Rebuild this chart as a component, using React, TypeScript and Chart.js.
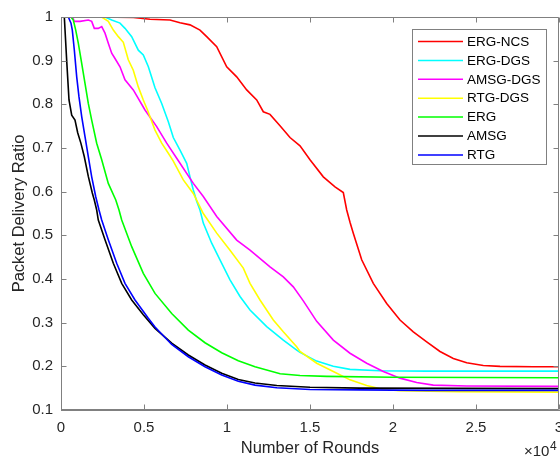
import React, { useEffect, useRef } from "react";
import { Chart, registerables } from "chart.js";

Chart.register(...registerables);

const seriesNames = ["ERG-NCS", "ERG-DGS", "AMSG-DGS", "RTG-DGS", "ERG", "AMSG", "RTG"];
const seriesColors = ["#FF0000", "#00FFFF", "#FF00FF", "#FFFF00", "#00FF00", "#000000", "#0000FF"];

const xTicks = [0, 5000, 10000, 15000, 20000, 25000, 30000];
const yTicks = [0.1, 0.2, 0.3, 0.4, 0.5, 0.6, 0.7, 0.8, 0.9, 1];

const ergNcsX = [0, 2349, 4355, 5361, 6566, 7169, 7771, 8373, 8777, 9380, 9982, 10584, 11187, 11789, 12187, 12590, 13193, 13795, 14398, 15000, 15801, 16506, 17006, 17211, 17410, 17608, 18114, 18813, 19620, 20422, 21223, 22030, 22831, 23633, 24440, 25440, 26446, 28452, 30000];
const ergNcsY = [1, 1, 0.999, 0.995, 0.993, 0.987, 0.982, 0.97, 0.955, 0.932, 0.886, 0.863, 0.833, 0.81, 0.783, 0.777, 0.751, 0.724, 0.705, 0.673, 0.634, 0.611, 0.598, 0.558, 0.53, 0.505, 0.444, 0.39, 0.344, 0.306, 0.279, 0.256, 0.234, 0.218, 0.208, 0.202, 0.2, 0.199, 0.199];

const ergDgsX = [0, 2650, 3054, 3554, 3855, 4259, 4657, 4958, 5262, 5663, 6066, 6466, 6765, 7169, 7572, 7771, 7970, 8174, 8373, 8572, 9078, 9578, 10181, 10784, 11386, 12392, 13392, 14200, 14398, 15400, 16400, 17410, 19200, 22000, 30000];
const ergDgsY = [1, 1, 0.993, 0.986, 0.974, 0.955, 0.924, 0.913, 0.886, 0.838, 0.802, 0.76, 0.724, 0.695, 0.665, 0.634, 0.604, 0.578, 0.558, 0.528, 0.482, 0.444, 0.398, 0.36, 0.329, 0.291, 0.26, 0.237, 0.232, 0.212, 0.2, 0.193, 0.19, 0.189, 0.189];

const amsgDgsX = [0, 700, 800, 1145, 1645, 1849, 2006, 2247, 2452, 2651, 2849, 3054, 3253, 3554, 3855, 4355, 5060, 5765, 6367, 7169, 7970, 8572, 9380, 10584, 11386, 12590, 13392, 13994, 14596, 15404, 16404, 17410, 18416, 19416, 20422, 21428, 22428, 24440, 30000];
const amsgDgsY = [1, 1, 0.99, 0.99, 0.993, 0.99, 0.974, 0.974, 0.978, 0.963, 0.94, 0.917, 0.905, 0.886, 0.856, 0.833, 0.787, 0.749, 0.711, 0.665, 0.619, 0.589, 0.543, 0.489, 0.466, 0.428, 0.405, 0.382, 0.35, 0.303, 0.26, 0.23, 0.207, 0.188, 0.173, 0.163, 0.157, 0.155, 0.154];

const rtgDgsX = [0, 2450, 2849, 3151, 3454, 3755, 4054, 4355, 4657, 4958, 5210, 5663, 6066, 6466, 6765, 7367, 7970, 8572, 9380, 10181, 10983, 11386, 11988, 12790, 13392, 14196, 14398, 15404, 16404, 17410, 18416, 19416, 20422, 24000, 30000];
const rtgDgsY = [1, 1, 0.99, 0.97, 0.955, 0.942, 0.902, 0.878, 0.84, 0.81, 0.787, 0.741, 0.711, 0.688, 0.67, 0.627, 0.596, 0.55, 0.505, 0.466, 0.425, 0.39, 0.352, 0.306, 0.279, 0.245, 0.234, 0.207, 0.188, 0.169, 0.156, 0.147, 0.144, 0.142, 0.141];

const ergX = [0, 600, 741, 886, 1042, 1247, 1446, 1645, 1849, 2150, 2452, 2849, 3300, 3494, 3657, 4259, 4958, 5663, 6669, 7669, 8675, 9681, 10681, 11687, 13200, 14400, 16000, 20000, 30000];
const ergY = [1, 1, 0.993, 0.97, 0.94, 0.894, 0.848, 0.802, 0.764, 0.711, 0.673, 0.619, 0.581, 0.558, 0.535, 0.474, 0.413, 0.367, 0.321, 0.283, 0.254, 0.231, 0.213, 0.199, 0.183, 0.179, 0.177, 0.175, 0.174];

const amsgX = [0, 200, 343, 482, 645, 843, 1006, 1205, 1404, 1645, 1886, 2006, 2150, 2247, 2651, 3151, 3657, 4259, 4958, 5663, 6669, 7669, 8675, 9681, 10681, 11687, 13000, 15000, 18000, 30000];
const amsgY = [1, 1, 0.9, 0.81, 0.775, 0.764, 0.735, 0.71, 0.68, 0.635, 0.597, 0.581, 0.558, 0.535, 0.49, 0.436, 0.39, 0.352, 0.318, 0.287, 0.253, 0.226, 0.203, 0.184, 0.17, 0.162, 0.156, 0.152, 0.15, 0.149];

const rtgX = [0, 440, 602, 681, 801, 946, 1084, 1247, 1446, 1645, 1849, 2090, 2289, 2452, 2849, 3355, 3855, 4458, 5259, 5663, 6669, 7669, 8675, 9681, 10681, 11687, 13000, 15000, 18000, 22000, 30000];
const rtgY = [1, 1, 0.986, 0.97, 0.925, 0.863, 0.817, 0.772, 0.726, 0.68, 0.634, 0.589, 0.558, 0.535, 0.49, 0.436, 0.39, 0.352, 0.31, 0.29, 0.25, 0.222, 0.199, 0.18, 0.166, 0.157, 0.151, 0.147, 0.146, 0.145, 0.145];

const seriesX = [ergNcsX, ergDgsX, amsgDgsX, rtgDgsX, ergX, amsgX, rtgX];
const seriesY = [ergNcsY, ergDgsY, amsgDgsY, rtgDgsY, ergY, amsgY, rtgY];

const FONT = "'Liberation Sans', Arial, Helvetica, sans-serif";
const AXIS_COLOR = "#808080";
const TEXT_COLOR = "#262626";

const fmt = (v: number) => String(parseFloat(v.toFixed(2)));

const matlabPlugin = {
  id: "matlabDecor",
  afterDraw(chart: any) {
    const ctx = chart.ctx;
    const { left, right, top, bottom } = chart.chartArea;
    const xs = chart.scales.x;
    const ys = chart.scales.y;
    ctx.save();
    ctx.strokeStyle = AXIS_COLOR;
    ctx.lineWidth = 1;
    const L = Math.round(left) + 0.5;
    const R = Math.round(right) - 0.5;
    const T = Math.round(top) + 0.5;
    const B = Math.round(bottom) - 0.5;
    ctx.beginPath();
    ctx.moveTo(L, T);
    ctx.lineTo(R, T);
    ctx.lineTo(R, B);
    ctx.moveTo(L, T);
    ctx.lineTo(L, B);
    ctx.lineTo(R, B);
    const tl = 5;
    xTicks.forEach((v) => {
      const px = Math.round(xs.getPixelForValue(v)) + 0.5;
      ctx.moveTo(px, B);
      ctx.lineTo(px, B - tl);
      ctx.moveTo(px, T);
      ctx.lineTo(px, T + tl);
    });
    yTicks.forEach((v) => {
      const py = Math.round(ys.getPixelForValue(v)) + 0.5;
      ctx.moveTo(L, py);
      ctx.lineTo(L + tl, py);
      ctx.moveTo(R, py);
      ctx.lineTo(R - tl, py);
    });
    ctx.stroke();

    // exponent label
    ctx.fillStyle = TEXT_COLOR;
    ctx.textBaseline = "alphabetic";
    ctx.textAlign = "left";
    ctx.font = `15px ${FONT}`;
    const base = "\u00D710";
    ctx.fillText(base, 524, 456);
    const w = ctx.measureText(base).width;
    ctx.font = `12px ${FONT}`;
    ctx.fillText("4", 524 + w + 0.5, 449.5);

    // legend
    const bx = 412.5, by = 29.5, bw = 134, bh = 135;
    ctx.fillStyle = "#ffffff";
    ctx.fillRect(bx, by, bw, bh);
    ctx.strokeStyle = AXIS_COLOR;
    ctx.strokeRect(bx, by, bw, bh);
    ctx.font = `13.5px ${FONT}`;
    ctx.textBaseline = "middle";
    seriesNames.forEach((name, i) => {
      const y = 41.5 + i * 18.9;
      ctx.strokeStyle = seriesColors[i];
      ctx.lineWidth = 1.5;
      ctx.beginPath();
      ctx.moveTo(418, y);
      ctx.lineTo(463, y);
      ctx.stroke();
      ctx.fillStyle = "#000000";
      ctx.fillText(name, 467, y + 0.5);
    });
    ctx.restore();
  },
};

export default function App() {
  const ref = useRef<HTMLCanvasElement>(null);
  useEffect(() => {
    if (!ref.current) return;
    Chart.defaults.font.family = FONT;
    const datasets = seriesNames.map((name, i) => ({
      label: name,
      data: seriesX[i].map((x, j) => ({ x, y: seriesY[i][j] })),
      borderColor: seriesColors[i],
      backgroundColor: seriesColors[i],
      borderWidth: 1.6,
      pointRadius: 0,
      tension: 0,
      fill: false,
      order: seriesNames.length - i,
    }));
    const chart = new Chart(ref.current, {
      type: "line",
      data: { datasets },
      options: {
        responsive: false,
        animation: false,
        maintainAspectRatio: false,
        layout: { padding: { top: 17, right: 1, left: 0, bottom: 0 } },
        plugins: { legend: { display: false }, tooltip: { enabled: false } },
        scales: {
          x: {
            type: "linear",
            min: 0,
            max: 30000,
            afterFit: (s: any) => {
              s.height = 46;
              s.paddingLeft = 0;
              s.paddingRight = 0;
            },
            afterBuildTicks: (s: any) => {
              s.ticks = xTicks.map((v) => ({ value: v }));
            },
            ticks: {
              callback: (v: any) => fmt(Number(v) / 10000),
              font: { size: 15 },
              color: TEXT_COLOR,
              padding: 9,
              maxRotation: 0,
              autoSkip: false,
            },
            grid: { display: false, drawTicks: false },
            border: { display: true, color: AXIS_COLOR, width: 1 },
            title: {
              display: true,
              text: "Number of Rounds",
              font: { size: 16.5 },
              color: TEXT_COLOR,
              padding: { top: 0, bottom: -2.5 },
            },
          },
          y: {
            type: "linear",
            min: 0.1,
            max: 1,
            afterFit: (s: any) => {
              s.width = 61;
              s.paddingTop = 0;
              s.paddingBottom = 0;
            },
            afterBuildTicks: (s: any) => {
              s.ticks = yTicks.map((v) => ({ value: v }));
            },
            ticks: {
              callback: (v: any) => fmt(Number(v)),
              font: { size: 15 },
              color: TEXT_COLOR,
              padding: 8,
              autoSkip: false,
            },
            grid: { display: false, drawTicks: false },
            border: { display: true, color: AXIS_COLOR, width: 1 },
            title: {
              display: true,
              text: "Packet Delivery Ratio",
              font: { size: 16.5 },
              color: TEXT_COLOR,
              padding: { top: 10, bottom: 0 },
            },
          },
        },
      },
      plugins: [matlabPlugin],
    });
    return () => chart.destroy();
  }, []);
  return (
    <div style={{ position: "fixed", left: 0, top: 0, width: 560, height: 456, background: "#fff" }}>
      <canvas ref={ref} width={560} height={456} />
    </div>
  );
}
